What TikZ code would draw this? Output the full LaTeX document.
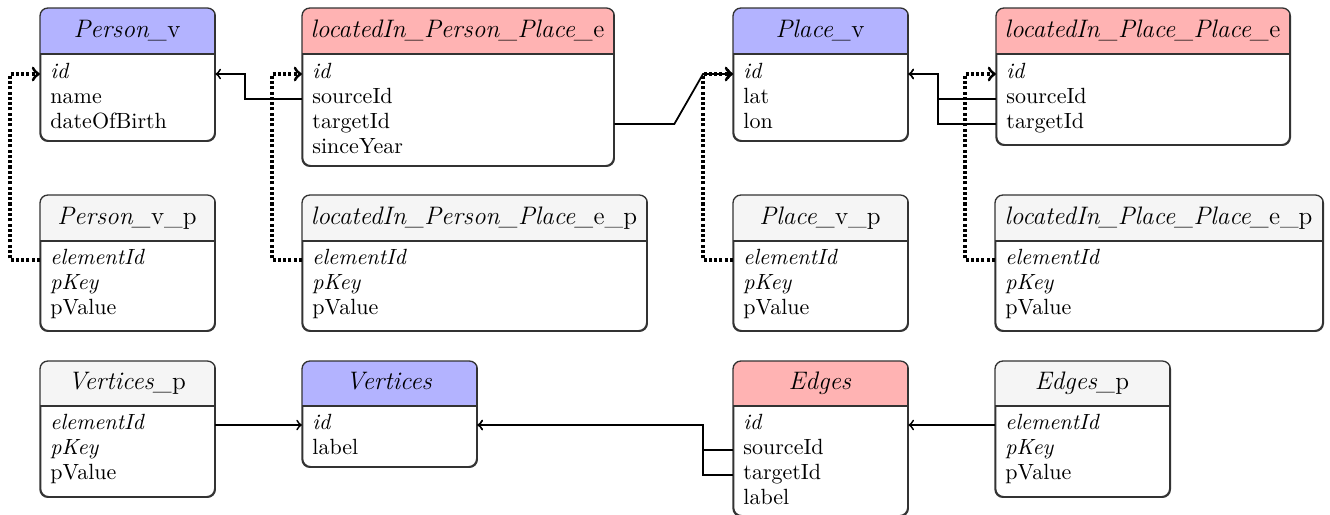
\documentclass[tikz,border=0pt]{standalone}
\usetikzlibrary{calc}
\definecolor{vblue}{RGB}{179,179,255}
\definecolor{ered}{RGB}{255,179,179}
\definecolor{pgray}{RGB}{245,245,245}
\newcommand{\dbbox}[8]{%
  \node[tblbox, minimum width={(#4-#2)*0.4545pt}, minimum height={(#5-#3)*0.4545pt}, anchor=north west] (#1) at (#2,#3) {};
  \begin{scope}
    \clip[rounded corners=3.6pt] (#1.north west) rectangle (#1.south east);
    \fill[#7] (#1.north west) rectangle (#4,#6);
  \end{scope}
  \draw[tblline, rounded corners=3.6pt] (#1.north west) rectangle (#1.south east);
  \draw[tblline] (#1.west |- 0,#6) -- (#1.east |- 0,#6);
  \node[hdr] (#1-h) at ({(#2+#4)/2},{#6-17}) {#8};
}
\begin{document}
\begin{tikzpicture}[x=0.4545pt, y=-0.4545pt,
  tblbox/.style={draw=black!80, line width=0.6pt, rounded corners=3.6pt, fill=white, inner sep=0pt},
  tblline/.style={draw=black!80, line width=0.6pt},
  hdr/.style={anchor=base, inner sep=0pt, font=\fontsize{11.5}{13.8}\selectfont},
  rowtxt/.style={anchor=mid west, inner sep=0pt},
  arr/.style={line width=0.8pt},
  dotarr/.style={line width=1.4pt, dash pattern=on 1.4pt off 1pt, ->}
]
\useasboundingbox (0,0) rectangle (1330,514);

% ---- top row ----
\dbbox{pv}{40}{8}{214}{140}{54}{vblue}{\textit{Person\_}v}
\node[rowtxt] (pv-id) at (50,74) {\textit{id}};
\node[rowtxt] (pv-name) at (50,99) {name};
\node[rowtxt] (pv-dob) at (50,124) {dateOfBirth};

\dbbox{lppe}{302}{8}{613}{165}{54}{ered}{\textit{locatedIn\_Person\_Place\_}e}
\node[rowtxt] (lppe-id) at (312,74) {\textit{id}};
\node[rowtxt] (lppe-src) at (312,99) {sourceId};
\node[rowtxt] (lppe-tgt) at (312,124) {targetId};
\node[rowtxt] (lppe-since) at (312,149) {sinceYear};

\dbbox{pl}{733}{8}{907}{140}{54}{vblue}{\textit{Place\_}v}
\node[rowtxt] (pl-id) at (743,74) {\textit{id}};
\node[rowtxt] (pl-lat) at (743,99) {lat};
\node[rowtxt] (pl-lon) at (743,124) {lon};

\dbbox{lppp}{996}{8}{1289}{144}{54}{ered}{\textit{locatedIn\_Place\_Place\_}e}
\node[rowtxt] (lppp-id) at (1006,74) {\textit{id}};
\node[rowtxt] (lppp-src) at (1006,99) {sourceId};
\node[rowtxt] (lppp-tgt) at (1006,124) {targetId};

% ---- middle row ----
\dbbox{pvp}{40}{195}{214}{330}{241}{pgray}{\textit{Person\_}v\_p}
\node[rowtxt] (pvp-eid) at (50,260) {\textit{elementId}};
\node[rowtxt] (pvp-key) at (50,285) {\textit{pKey}};
\node[rowtxt] (pvp-val) at (50,310) {pValue};

\dbbox{lppep}{302}{195}{646}{330}{241}{pgray}{\textit{locatedIn\_Person\_Place\_}e\_p}
\node[rowtxt] (lppep-eid) at (312,260) {\textit{elementId}};
\node[rowtxt] (lppep-key) at (312,285) {\textit{pKey}};
\node[rowtxt] (lppep-val) at (312,310) {pValue};

\dbbox{plp}{733}{195}{907}{330}{241}{pgray}{\textit{Place\_}v\_p}
\node[rowtxt] (plp-eid) at (743,260) {\textit{elementId}};
\node[rowtxt] (plp-key) at (743,285) {\textit{pKey}};
\node[rowtxt] (plp-val) at (743,310) {pValue};

\dbbox{lpppp}{995}{195}{1322}{330}{241}{pgray}{\textit{locatedIn\_Place\_Place\_}e\_p}
\node[rowtxt] (lpppp-eid) at (1005,260) {\textit{elementId}};
\node[rowtxt] (lpppp-key) at (1005,285) {\textit{pKey}};
\node[rowtxt] (lpppp-val) at (1005,310) {pValue};

% ---- bottom row ----
\dbbox{vp}{40}{361}{214}{496}{406}{pgray}{\textit{Vertices\_}p}
\node[rowtxt] (vp-eid) at (50,425) {\textit{elementId}};
\node[rowtxt] (vp-key) at (50,450) {\textit{pKey}};
\node[rowtxt] (vp-val) at (50,475) {pValue};

\dbbox{vt}{302}{361}{476}{466}{406}{vblue}{\textit{Vertices}}
\node[rowtxt] (vt-id) at (312,425) {\textit{id}};
\node[rowtxt] (vt-label) at (312,450) {label};

\dbbox{ed}{733}{361}{907}{515}{406}{ered}{\textit{Edges}}
\node[rowtxt] (ed-id) at (743,425) {\textit{id}};
\node[rowtxt] (ed-src) at (743,450) {sourceId};
\node[rowtxt] (ed-tgt) at (743,475) {targetId};
\node[rowtxt] (ed-label) at (743,500) {label};

\dbbox{ep}{995}{361}{1169}{496}{406}{pgray}{\textit{Edges\_}p}
\node[rowtxt] (ep-eid) at (1005,425) {\textit{elementId}};
\node[rowtxt] (ep-key) at (1005,450) {\textit{pKey}};
\node[rowtxt] (ep-val) at (1005,475) {pValue};

% ---- connectors ----
\draw[dotarr] (pvp-eid.mid -| pvp.west) -- ++(-30,0) |- (pv-id.mid -| pv.west);
\draw[dotarr] (lppep-eid.mid -| lppep.west) -- ++(-30,0) |- (lppe-id.mid -| lppe.west);
\draw[dotarr] (plp-eid.mid -| plp.west) -- ++(-30,0) |- (pl-id.mid -| pl.west);
\draw[dotarr] (lpppp-eid.mid -| lpppp.west) -- ++(-30,0) |- (lppp-id.mid -| lppp.west);

\draw[arr, <-] (pv-id.mid -| pv.east) -- ++(30,0) |- (lppe-src.mid -| lppe.west);
\draw[arr, ->] (lppe-tgt.mid -| lppe.east) -- ($(lppe-tgt.mid -| lppe.east)+(60,0)$)
   -- ($(pl-id.mid -| pl.west)+(-30,0)$) -- (pl-id.mid -| pl.west);
\draw[arr, <-] (pl-id.mid -| pl.east) -- ++(30,0) |- (lppp-src.mid -| lppp.west);
\draw[arr, <-] (pl-id.mid -| pl.east) -- ++(30,0) |- (lppp-tgt.mid -| lppp.west);

\draw[arr, ->] (vt-id.mid -| vp.east) -- (vt-id.mid -| vt.west);
\draw[arr, <-] (vt-id.mid -| vt.east) -| ($(ed-src.mid -| ed.west)+(-30,0)$) -- (ed-src.mid -| ed.west);
\draw[arr, <-] (vt-id.mid -| vt.east) -| ($(ed-tgt.mid -| ed.west)+(-30,0)$) -- (ed-tgt.mid -| ed.west);
\draw[arr, <-] (ed-id.mid -| ed.east) -- (ed-id.mid -| ep.west);
\end{tikzpicture}
\end{document}
